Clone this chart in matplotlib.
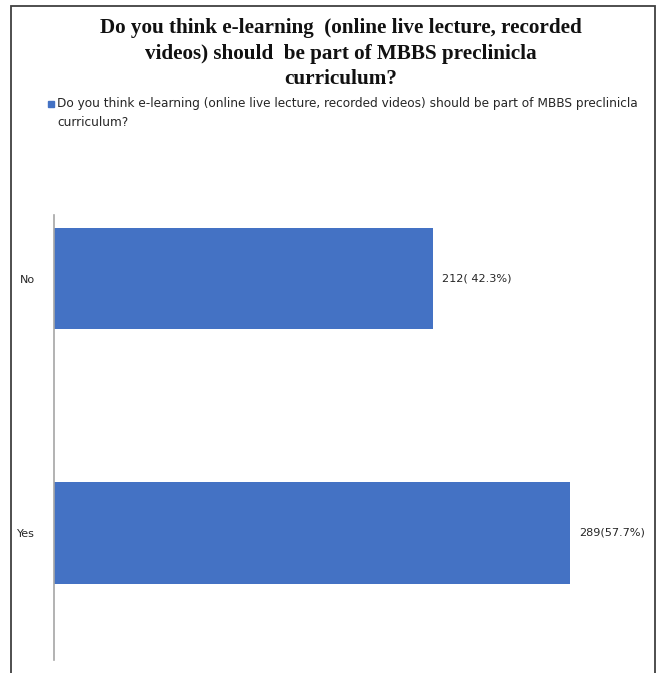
import matplotlib.pyplot as plt
from matplotlib.patches import Rectangle

# data
categories = ["Yes", "No"]
counts = [289, 212]
percents = [57.7, 42.3]
bar_labels = ["289(57.7%)", "212( 42.3%)"]
title = "Do you think e-learning  (online live lecture, recorded\nvideos) should  be part of MBBS preclinicla\ncurriculum?"
series_name = "Do you think e-learning (online live lecture, recorded videos) should be part of MBBS preclinicla"

bar_color = "#4472C4"
W, H = 657, 673

fig = plt.figure(figsize=(W / 100, H / 100), dpi=100)
ax = fig.add_axes([54 / W, 1 - 660 / H, (640 - 54) / W, (660 - 215) / H])

ypos = list(range(len(categories)))
bars = ax.barh(ypos, counts, height=0.4, color=bar_color)
ax.set_xlim(0, 328)
ax.set_ylim(-0.5, 1.25)
ax.set_yticks(ypos)
ax.set_yticklabels(categories, fontsize=8, color="#262626")
ax.tick_params(axis="y", length=0, pad=14)
ax.set_xticks([])
for s in ["top", "right", "bottom"]:
    ax.spines[s].set_visible(False)
ax.spines["left"].set_color("#A6A6A6")
ax.spines["left"].set_linewidth(1.2)

for b, lab in zip(bars, bar_labels):
    ax.text(b.get_width() + 5, b.get_y() + b.get_height() / 2, lab,
            va="center", ha="left", fontsize=8.1, color="#262626")

# title
fig.text(341 / W, 1 - 18 / H, title, ha="center", va="top",
         fontsize=15.2, fontweight="bold", family="Liberation Serif",
         linespacing=1.38, color="#111111")

# legend (handle aligned with first line)
fig.patches.append(Rectangle((48 / W, 1 - 107 / H), 6 / W, 6 / H,
                             transform=fig.transFigure, color=bar_color))
fig.text(57 / W, 1 - 104 / H, series_name, ha="left", va="center",
         fontsize=8.7, color="#262626")
fig.text(57 / W, 1 - 122 / H, "curriculum?", ha="left", va="center",
         fontsize=8.7, color="#262626")

# outer frame
fig.patches.append(Rectangle((11 / W, -0.05), (655 - 11) / W, 1.05 - 6 / H,
                             transform=fig.transFigure, fill=False,
                             edgecolor="#404040", linewidth=1.3))

fig.savefig("out.png", dpi=100)
